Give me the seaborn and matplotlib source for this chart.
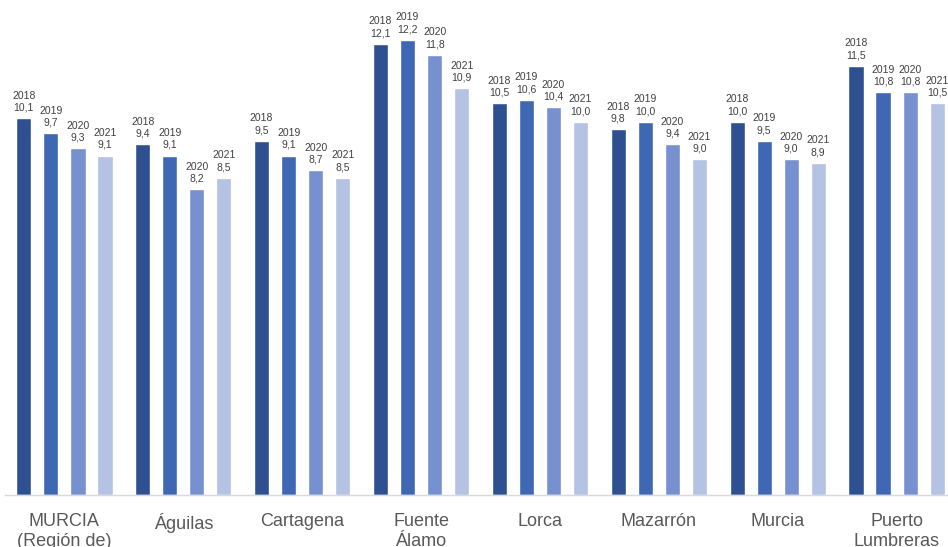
import matplotlib.pyplot as plt
import pandas as pd
import seaborn as sns

# Data
municipios = ["MURCIA\n(Región de)", "Águilas", "Cartagena", "Fuente\nÁlamo",
              "Lorca", "Mazarrón", "Murcia", "Puerto\nLumbreras"]
years = ["2018", "2019", "2020", "2021"]
v2018 = [10.1, 9.4, 9.5, 12.1, 10.5, 9.8, 10.0, 11.5]
v2019 = [9.7, 9.1, 9.1, 12.2, 10.6, 10.0, 9.5, 10.8]
v2020 = [9.3, 8.2, 8.7, 11.8, 10.4, 9.4, 9.0, 10.8]
v2021 = [9.1, 8.5, 8.5, 10.9, 10.0, 9.0, 8.9, 10.5]

colors = ["#2F5090", "#3E68B4", "#7690D0", "#B4C3E4"]

# Long format table for seaborn
rows = []
for year, vals in zip(years, [v2018, v2019, v2020, v2021]):
    for m, v in zip(municipios, vals):
        rows.append({"municipio": m, "year": year, "value": v})
df = pd.DataFrame(rows)

sns.set_style("white")
plt.rcParams["font.family"] = ["Liberation Sans", "DejaVu Sans"]

fig = plt.figure(figsize=(9.48, 5.47), dpi=100)
ax = fig.add_axes([5 / 948, 52 / 547, 951 / 948, 495 / 547])

sns.barplot(data=df, x="municipio", y="value", hue="year", order=municipios,
            hue_order=years, palette=colors, width=0.91, gap=0.44,
            saturation=1, legend=False, ax=ax)

# Value labels: year on top, value below
for container, year in zip(ax.containers, years):
    for bar in container:
        h = bar.get_height()
        ax.annotate(f"{year}\n{h:.1f}".replace(".", ","),
                    (bar.get_x() + bar.get_width() / 2, h),
                    xytext=(0, 4), textcoords="offset points",
                    ha="center", va="bottom", fontsize=7.5,
                    color="#404040", linespacing=1.25)

ax.set_xlim(-0.5, 7.5)
ax.set_ylim(0, 13.27)
ax.set_xlabel("")
ax.set_ylabel("")
ax.set_yticks([])
ax.tick_params(axis="x", length=0, pad=13, labelsize=13, labelcolor="#595959")
for lbl in ax.get_xticklabels():
    lbl.set_va("top")
    lbl.set_linespacing(1.2)

for s in ["top", "right", "left"]:
    ax.spines[s].set_visible(False)
ax.spines["bottom"].set_color("#D9D9D9")
ax.spines["bottom"].set_linewidth(1)

fig.savefig("out.png", dpi=100)
